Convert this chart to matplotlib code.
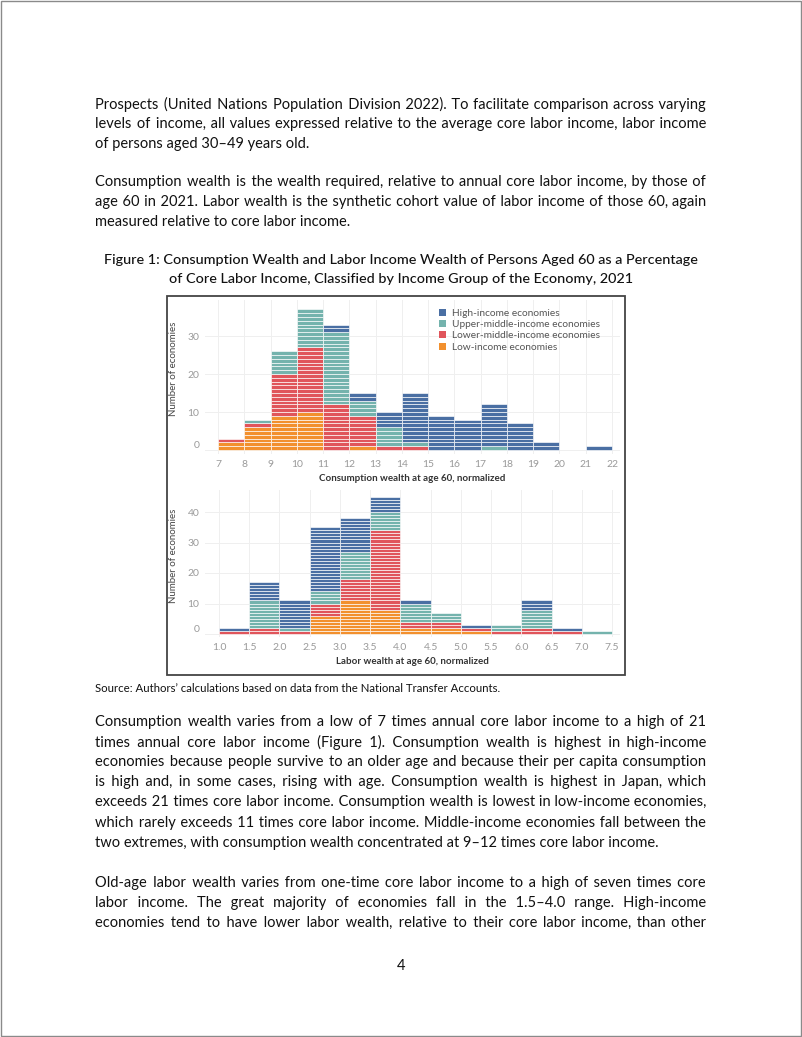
import matplotlib
matplotlib.use("Agg")
import matplotlib.pyplot as plt
from matplotlib.patches import Rectangle, Patch

plt.rcParams['font.family'] = ['Lato', 'DejaVu Sans']

W, H = 802, 1037

# --- data ---
groups = ["High-income economies", "Upper-middle-income economies",
          "Lower-middle-income economies", "Low-income economies"]
colors = ["#4a6fa3", "#74b3ad", "#e0555b", "#f2902e"]

cw_bins = [7, 8, 9, 10, 11, 12, 13, 14, 15, 16, 17, 18, 19, 20, 21]
cw_low = [2, 6, 9, 10, 0, 1, 0, 0, 0, 0, 0, 0, 0, 0, 0]
cw_lower_mid = [1, 1, 11, 17, 12, 8, 1, 1, 0, 0, 0, 0, 0, 0, 0]
cw_upper_mid = [0, 1, 6, 10, 19, 4, 5, 1, 0, 0, 1, 0, 0, 0, 0]
cw_high = [0, 0, 0, 0, 2, 2, 4, 13, 9, 8, 11, 7, 2, 0, 1]
cw_ticks = list(range(7, 23))

lw_bins = [1.0, 1.5, 2.0, 2.5, 3.0, 3.5, 4.0, 4.5, 5.0, 5.5, 6.0, 6.5, 7.0]
lw_low = [0, 0, 0, 6, 11, 8, 2, 2, 1, 0, 0, 0, 0]
lw_lower_mid = [1, 2, 1, 4, 7, 26, 2, 2, 1, 1, 2, 1, 0]
lw_upper_mid = [0, 9, 1, 4, 9, 6, 6, 3, 0, 2, 6, 0, 1]
lw_high = [1, 6, 9, 21, 11, 5, 1, 0, 1, 0, 3, 1, 0]
lw_ticks = [1.0, 1.5, 2.0, 2.5, 3.0, 3.5, 4.0, 4.5, 5.0, 5.5, 6.0, 6.5, 7.0, 7.5]

para1 = ["Prospects (United Nations Population Division 2022). To facilitate comparison across varying",
         "levels of income, all values expressed relative to the average core labor income, labor income",
         "of persons aged 30–49 years old."]
para2 = ["Consumption wealth is the wealth required, relative to annual core labor income, by those of",
         "age 60 in 2021. Labor wealth is the synthetic cohort value of labor income of those 60, again",
         "measured relative to core labor income."]
caption = ["Figure 1: Consumption Wealth and Labor Income Wealth of Persons Aged 60 as a Percentage",
           "of Core Labor Income, Classified by Income Group of the Economy, 2021"]
source = "Source: Authors’ calculations based on data from the National Transfer Accounts."
para3 = ["Consumption wealth varies from a low of 7 times annual core labor income to a high of 21",
         "times annual core labor income (Figure 1). Consumption wealth is highest in high-income",
         "economies because people survive to an older age and because their per capita consumption",
         "is high and, in some cases, rising with age. Consumption wealth is highest in Japan, which",
         "exceeds 21 times core labor income. Consumption wealth is lowest in low-income economies,",
         "which rarely exceeds 11 times core labor income. Middle-income economies fall between the",
         "two extremes, with consumption wealth concentrated at 9–12 times core labor income."]
para4 = ["Old-age labor wealth varies from one-time core labor income to a high of seven times core",
         "labor income. The great majority of economies fall in the 1.5–4.0 range. High-income",
         "economies tend to have lower labor wealth, relative to their core labor income, than other"]

fig = plt.figure(figsize=(W / 100, H / 100), dpi=100)
fig.patch.set_facecolor("white")
renderer = fig.canvas.get_renderer()


def fx(x):
    return x / W


def fy(y):
    return 1 - y / H


def text_width(s, size, **kw):
    t = fig.text(0, 0, s, fontsize=size, **kw)
    w = t.get_window_extent(renderer).width
    t.remove()
    return w


LEFT, RIGHT = 95, 706
TEXTW = RIGHT - LEFT
HAIR = "\u200a"

# body font size so that the widest justified line fits the column
justified = para1[:2] + para2[:2] + para3[:6] + para4
ref = 10.0
widest = max(text_width(s, ref) for s in justified)
body = min(12.0, ref * TEXTW / widest * 0.985)
hair_w = (text_width("a" + HAIR * 40 + "b", body) - text_width("ab", body)) / 40


def justify(s, size):
    # pad the word gaps with hair spaces so the line fills the column
    words = s.split(" ")
    gaps = len(words) - 1
    extra = TEXTW - text_width(s, size)
    n = max(0, int(round(extra / hair_w))) if hair_w > 0.2 else 0
    out = words[0]
    for i, w in enumerate(words[1:]):
        k = n // gaps + (1 if i < n % gaps else 0)
        out += " " + HAIR * k + w
    return out


def draw_para(lines, y0, last_justified=False, step=19.8):
    for i, s in enumerate(lines):
        last = i == len(lines) - 1
        if (not last) or last_justified:
            s = justify(s, body)
        fig.text(fx(LEFT), fy(y0 + i * step), s, fontsize=body, color="#111111",
                 va="center", ha="left")


draw_para(para1, 104)
draw_para(para2, 182)
for i, s in enumerate(caption):
    fig.text(0.5, fy(260 + i * 19.5), s, fontsize=body * 0.98, ha="center", va="center",
             color="#111111", fontweight="medium")
fig.text(fx(LEFT), fy(689), source, fontsize=body * 0.78, va="center", ha="left",
         color="#111111")
draw_para(para3, 722, step=20.1)
draw_para(para4, 883, last_justified=True, step=20.1)
fig.text(0.5, fy(966), "4", fontsize=body, ha="center", va="center", color="#111111")

# page border and chart frame
fig.patches.append(Rectangle((fx(1), fy(1036)), fx(800), 1 - fy(1035), transform=fig.transFigure,
                             fill=False, edgecolor="#8a8a8a", lw=1.0))
fig.patches.append(Rectangle((fx(167), fy(675)), fx(625 - 167), (675 - 296) / H,
                             transform=fig.transFigure, fill=False, edgecolor="#444444", lw=1.3))


def hist_panel(ax_px, x0, x1, ppx, y0px, ppy, bins, width, series, ticks, yticks, xlabel,
               tickfmt):
    left, top, right, bottom = ax_px
    ax = fig.add_axes([fx(left), fy(bottom), fx(right - left), (bottom - top) / H])
    # data limits from the pixel geometry
    ax.set_xlim(x0 - (ppx[0] - left) / ppx[2], x1 + (right - ppx[1]) / ppx[2])
    ax.set_ylim(-(bottom - y0px) / ppy, (y0px - top) / ppy)
    base = [0] * len(bins)
    for vals, col in series:
        xs, bs = [], []
        for i, v in enumerate(vals):
            for k in range(v):
                xs.append(bins[i])
                bs.append(base[i] + k)
            base[i] += v
        ax.bar(xs, [1] * len(xs), width=width, bottom=bs, align="edge", color=col,
               edgecolor="white", linewidth=0.45, zorder=3)
    ax.set_xticks(ticks)
    ax.set_xticklabels([tickfmt(t) for t in ticks])
    ax.set_yticks(yticks)
    ax.grid(True, color="#efefef", lw=0.7, zorder=0)
    for sp in ax.spines.values():
        sp.set_visible(False)
    ax.tick_params(length=0, labelsize=7.5, labelcolor="#9a9a9a", pad=4)
    ax.get_yticklabels()[0].set_va("bottom")
    ax.set_xlabel(xlabel, fontsize=7, color="#333333", fontweight="bold", labelpad=4)
    ax.set_ylabel("Number of economies", fontsize=7, color="#444444")
    ax.yaxis.set_label_coords((178 - left) / (right - left), 0.55)
    ax.set_facecolor("none")
    return ax


top_series = [(cw_low, colors[3]), (cw_lower_mid, colors[2]),
              (cw_upper_mid, colors[1]), (cw_high, colors[0])]
ax1 = hist_panel((205, 300, 620, 454), 7, 22, (218, 612, 394 / 15), 450, 3.8,
                 cw_bins, 1, top_series, cw_ticks, [0, 10, 20, 30],
                 "Consumption wealth at age 60, normalized", lambda t: f"{t}")
handles = [Patch(facecolor=c, edgecolor="none") for c in colors]
ax1.legend(handles, groups, loc="upper left", bbox_to_anchor=((430 - 205) / 415, 1.0),
           frameon=False, fontsize=7.3, handlelength=0.7, handleheight=0.7,
           handletextpad=0.6, labelspacing=0.2, labelcolor="#555555", borderaxespad=0.5)

bot_series = [(lw_low, colors[3]), (lw_lower_mid, colors[2]),
              (lw_upper_mid, colors[1]), (lw_high, colors[0])]
ax2 = hist_panel((205, 490, 620, 637), 1.0, 7.5, (219, 612, 393 / 6.5), 634, 3.05,
                 lw_bins, 0.5, bot_series, lw_ticks, [0, 10, 20, 30, 40],
                 "Labor wealth at age 60, normalized", lambda t: f"{t:.1f}")

fig.savefig("out.png", dpi=100)
